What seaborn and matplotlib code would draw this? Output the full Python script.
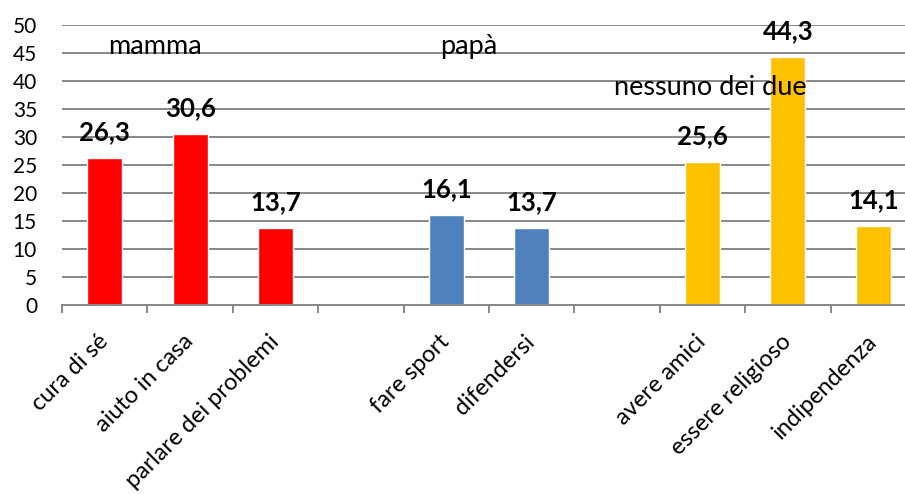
import matplotlib
matplotlib.use("Agg")
import matplotlib.pyplot as plt
import seaborn as sns
import pandas as pd
from matplotlib.ticker import FixedLocator

# Categories (two blank slots separate the three groups)
categories = ["cura di sé", "aiuto in casa", "parlare dei problemi", " ",
              "fare sport", "difendersi", "  ",
              "avere amici", "essere religioso", "indipendenza"]
bar_labels = ["cura di sé", "aiuto in casa", "parlare dei problemi",
              "fare sport", "difendersi",
              "avere amici", "essere religioso", "indipendenza"]
values = [26.3, 30.6, 13.7, 16.1, 13.7, 25.6, 44.3, 14.1]
groups = ["mamma", "mamma", "mamma", "papà", "papà",
          "nessuno dei due", "nessuno dei due", "nessuno dei due"]
group_colors = {"mamma": "#FF0000", "papà": "#4F81BD", "nessuno dei due": "#FFC000"}
y_ticks = [0, 5, 10, 15, 20, 25, 30, 35, 40, 45, 50]

df = pd.DataFrame({"voce": bar_labels, "valore": values, "gruppo": groups})

sns.set_style("white")
plt.rcParams["font.family"] = ["Lato", "DejaVu Sans"]
plt.rcParams["text.color"] = "black"

W, H = 905, 495
fig = plt.figure(figsize=(W / 100, H / 100), dpi=100)
ax = fig.add_axes([62 / W, 1 - 305 / H, (916 - 62) / W, (305 - 25) / H])

sns.barplot(data=df, x="voce", y="valore", hue="gruppo", order=categories,
            palette=group_colors, dodge=False, width=0.41, legend=False,
            saturation=1, ax=ax)

ax.set_xlim(-0.5, len(categories) - 0.5)
ax.set_ylim(0, 50)
ax.set_yticks(y_ticks)
ax.set_yticklabels([str(t) for t in y_ticks])
ax.set_xlabel("")
ax.set_ylabel("")

grid_color = "#878787"
ax.yaxis.grid(True, color=grid_color, linewidth=1.4)
ax.set_axisbelow(True)
for side in ["left", "right", "top"]:
    ax.spines[side].set_visible(False)
ax.spines["bottom"].set_color(grid_color)
ax.spines["bottom"].set_linewidth(1.4)

# labels at category centres, tick marks at category boundaries
ax.set_xticks(range(len(categories)))
ax.set_xticklabels(categories)
ax.xaxis.set_minor_locator(FixedLocator([i - 0.5 for i in range(len(categories) + 1)]))
ax.tick_params(axis="x", which="major", length=0, pad=24, labelsize=17, labelcolor="black")
ax.tick_params(axis="x", which="minor", length=6, width=1.4, color=grid_color, direction="out", bottom=True)
ax.tick_params(axis="y", length=0, pad=18, labelsize=15, labelcolor="black")
for lab in ax.get_xticklabels():
    lab.set_rotation(45)
    lab.set_ha("right")
    lab.set_va("center")
    lab.set_rotation_mode("anchor")

# value labels above the bars
for patch in ax.patches:
    h = patch.get_height()
    if h and h == h:
        ax.annotate(f"{h:.1f}".replace(".", ","),
                    (patch.get_x() + patch.get_width() / 2, h),
                    xytext=(0, 18.7), textcoords="offset points",
                    ha="center", va="center", fontsize=18.5, fontweight="bold",
                    color="black")

# group captions
caption_size = 19.5
ax.text(0.04, 46.1, "mamma", fontsize=caption_size, va="center", ha="left", color="black")
ax.text(3.93, 46.1, "papà", fontsize=caption_size, va="center", ha="left", color="black")
ax.text(5.96, 38.9, "nessuno dei due", fontsize=caption_size, va="center", ha="left", color="black")

fig.savefig("out.png", dpi=100, facecolor="white")
